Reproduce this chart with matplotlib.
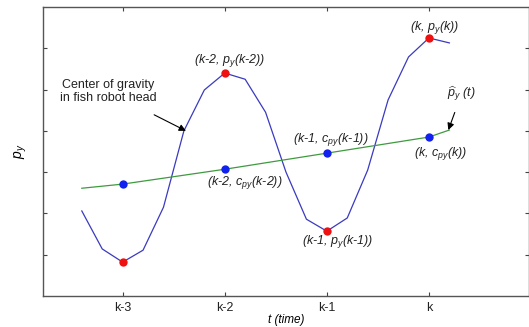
import matplotlib
matplotlib.use("Agg")
import matplotlib.pyplot as plt

# --- data ---
# sampled head trajectory p_y(t)
t_head = [0.6, 0.8, 1.0, 1.2, 1.4, 1.6, 1.8, 2.0, 2.2, 2.4, 2.6, 2.8,
          3.0, 3.2, 3.4, 3.6, 3.8, 4.0, 4.2]
p_head = [2.06, 1.14, 0.82, 1.11, 2.15, 4.0, 4.99, 5.40, 5.25, 4.45, 3.0, 1.86,
          1.57, 1.89, 3.05, 4.75, 5.79, 6.25, 6.13]

# centre-line estimate c_py(t)
t_center = [0.6, 1.0, 2.0, 3.0, 4.0, 4.2]
c_center = [2.61, 2.71, 3.07, 3.46, 3.85, 4.02]

# sample instants
t_samples = [1, 2, 3, 4]
p_samples = [0.82, 5.40, 1.57, 6.25]
c_samples = [2.71, 3.07, 3.46, 3.85]
tick_labels = ["k-3", "k-2", "k-1", "k"]

plt.rcParams['font.family'] = ['Liberation Sans', 'DejaVu Sans']
plt.rcParams['mathtext.fontset'] = 'custom'
plt.rcParams['mathtext.it'] = 'Liberation Sans:italic'
plt.rcParams['mathtext.rm'] = 'Liberation Sans'

fig = plt.figure(figsize=(5.29, 3.27), dpi=100)
ax = fig.add_axes([43 / 529, 31 / 327, 486 / 529, 289 / 327])

ax.plot(t_head, p_head, color='#3a3ac0', linewidth=0.9)
ax.plot(t_center, c_center, color='#3f9a3f', linewidth=0.9)
ax.plot(t_samples, p_samples, 'o', color='#ee1111', markersize=6, markeredgewidth=0)
ax.plot(t_samples, c_samples, 'o', color='#1122ee', markersize=6, markeredgewidth=0)

ax.set_xlim(0.22, 4.98)
ax.set_ylim(0, 7)
ax.set_xticks(t_samples)
ax.set_xticklabels(tick_labels, fontsize=9)
ax.set_yticks([1, 2, 3, 4, 5, 6])
ax.set_yticklabels([])
ax.tick_params(direction='in', length=3, width=0.8, top=True, right=True,
               colors='#444444', labelcolor='#222222', pad=4)
for s in ax.spines.values():
    s.set_color('#555555')
    s.set_linewidth(1.0)

ax.set_xlabel('t (time)', fontsize=8.5, style='italic')
ax.xaxis.set_label_coords(0.5, -0.062)
ax.set_ylabel('$p_y$', fontsize=10, labelpad=6)

lab = dict(fontsize=9, style='italic', color='#222222', ha='center', va='center')
ax.text(2.05, 5.71, '(k-2, p$_y$(k-2))', **lab)
ax.text(4.06, 6.51, '(k, p$_y$(k))', **lab)
ax.text(3.04, 3.78, '(k-1, c$_{py}$(k-1))', **lab)
ax.text(2.20, 2.74, '(k-2, c$_{py}$(k-2))', **lab)
ax.text(4.11, 3.46, '(k, c$_{py}$(k))', **lab)
ax.text(3.11, 1.31, '(k-1, p$_y$(k-1))', **lab)

ax.annotate('Center of gravity\nin fish robot head', xy=(1.62, 4.0), xytext=(0.86, 4.95),
            fontsize=9, ha='center', va='center', color='#222222', linespacing=1.05,
            arrowprops=dict(arrowstyle='-|>', color='black', lw=0.8,
                            shrinkA=13, shrinkB=0, mutation_scale=10))
ax.annotate(r'$\widehat{p}_y$ (t)', xy=(4.19, 4.02), xytext=(4.32, 4.9),
            fontsize=9, style='italic', ha='center', va='center', color='#222222',
            arrowprops=dict(arrowstyle='-|>', color='black', lw=0.8,
                            shrinkA=5, shrinkB=0, mutation_scale=10))

fig.savefig('out.png', dpi=100)
